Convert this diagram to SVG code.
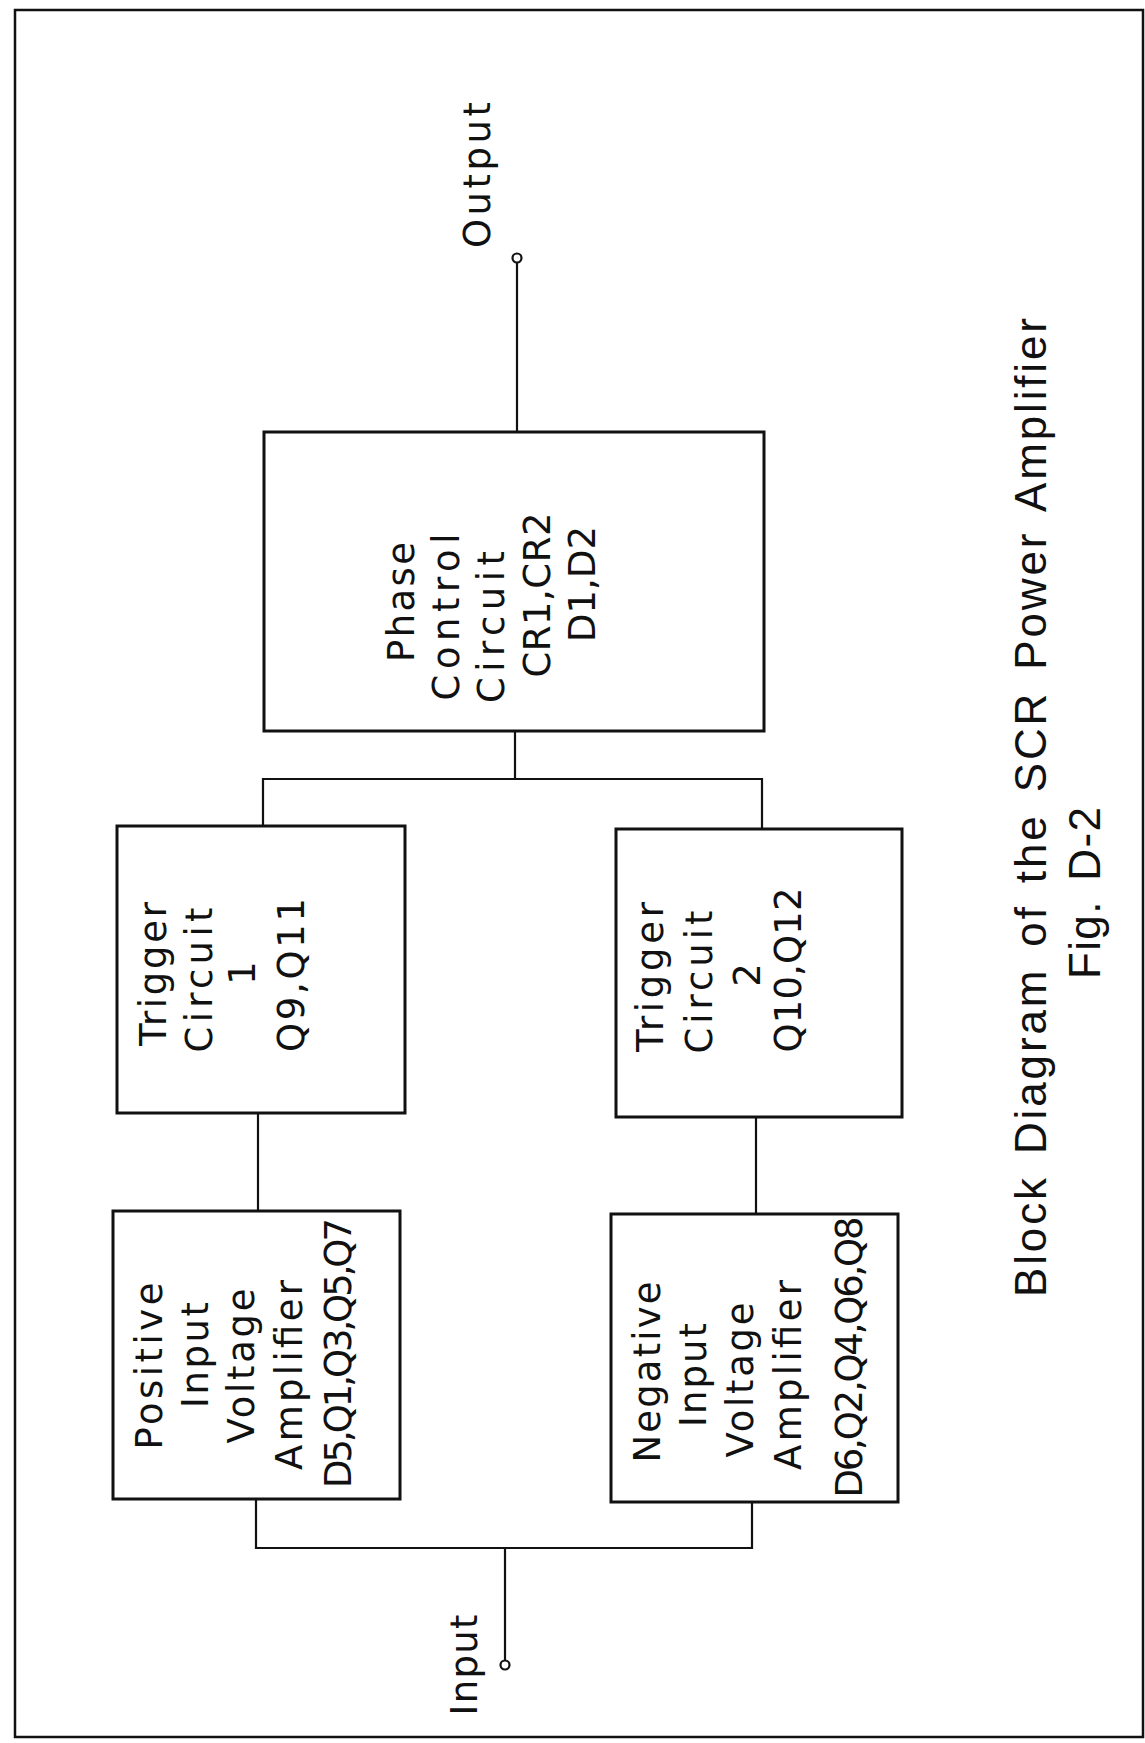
<svg xmlns="http://www.w3.org/2000/svg" width="1145" height="1743" viewBox="0 0 1145 1743">
  <style>
    .box{fill:none;stroke:#111;stroke-width:3}
    .wire{fill:none;stroke:#111;stroke-width:2.2}
    .term{fill:#fff;stroke:#111;stroke-width:2.2}
    .lbl{font-family:"DejaVu Sans","Liberation Sans",sans-serif;font-size:37px;fill:#111;text-anchor:middle}
    .ttl{font-family:"Liberation Sans",Arial,sans-serif;font-size:44px;fill:#111;text-anchor:middle;word-spacing:6px}
  </style>
  <rect width="1145" height="1743" fill="#fff"/>
  <!-- sheet frame -->
  <rect x="15" y="10" width="1128" height="1727" fill="none" stroke="#111" stroke-width="2.5"/>

  <!-- connectors -->
  <g id="connectors">
    <line class="wire" x1="517" y1="432" x2="517" y2="262"/>
    <circle class="term" cx="517" cy="258" r="4.5"/>
    <polyline class="wire" points="515,731 515,779"/>
    <polyline class="wire" points="263,826 263,779 762,779 762,829"/>
    <line class="wire" x1="258" y1="1113" x2="258" y2="1211"/>
    <line class="wire" x1="756" y1="1117" x2="756" y2="1214"/>
    <polyline class="wire" points="256,1499 256,1548 752,1548 752,1502"/>
    <line class="wire" x1="505" y1="1548" x2="505" y2="1660"/>
    <circle class="term" cx="505" cy="1665" r="4.5"/>
  </g>

  <g id="phase-control">
    <rect class="box" x="264" y="432" width="500" height="299"/>
    <text class="lbl" transform="translate(414 602) rotate(-90)" textLength="120">Phase</text>
    <text class="lbl" transform="translate(459 617) rotate(-90)" textLength="167">Control</text>
    <text class="lbl" transform="translate(504 627) rotate(-90)" textLength="152">Circuit</text>
    <text class="lbl" transform="translate(550 595) rotate(-90)" textLength="165">CR1,CR2</text>
    <text class="lbl" transform="translate(595 584) rotate(-90)" textLength="116">D1,D2</text>
  </g>

  <g id="trigger-1">
    <rect class="box" x="117" y="826" width="288" height="287"/>
    <text class="lbl" transform="translate(166 974) rotate(-90)" textLength="144">Trigger</text>
    <text class="lbl" transform="translate(212 980) rotate(-90)" textLength="145">Circuit</text>
    <text class="lbl" transform="translate(255 973) rotate(-90)">1</text>
    <text class="lbl" transform="translate(304 975) rotate(-90)" textLength="154">Q9,Q11</text>
  </g>

  <g id="trigger-2">
    <rect class="box" x="616" y="829" width="286" height="288"/>
    <text class="lbl" transform="translate(663 977) rotate(-90)" textLength="150">Trigger</text>
    <text class="lbl" transform="translate(712 982) rotate(-90)" textLength="143">Circuit</text>
    <text class="lbl" transform="translate(760 975) rotate(-90)">2</text>
    <text class="lbl" transform="translate(801 970) rotate(-90)" textLength="165">Q10,Q12</text>
  </g>

  <g id="positive-amp">
    <rect class="box" x="113" y="1211" width="287" height="288"/>
    <text class="lbl" transform="translate(162 1366) rotate(-90)" textLength="167">Positive</text>
    <text class="lbl" transform="translate(208 1355) rotate(-90)" textLength="106">Input</text>
    <text class="lbl" transform="translate(254 1366) rotate(-90)" textLength="155">Voltage</text>
    <text class="lbl" transform="translate(302 1375) rotate(-90)" textLength="190">Amplifier</text>
    <text class="lbl" transform="translate(351 1353) rotate(-90)" textLength="270">D5,Q1,Q3,Q5,Q7</text>
  </g>

  <g id="negative-amp">
    <rect class="box" x="611" y="1214" width="287" height="288"/>
    <text class="lbl" transform="translate(660 1372) rotate(-90)" textLength="181">Negative</text>
    <text class="lbl" transform="translate(706 1375) rotate(-90)" textLength="104">Input</text>
    <text class="lbl" transform="translate(753 1380) rotate(-90)" textLength="155">Voltage</text>
    <text class="lbl" transform="translate(801 1375) rotate(-90)" textLength="190">Amplifier</text>
    <text class="lbl" transform="translate(862 1357) rotate(-90)" textLength="281">D6,Q2,Q4,Q6,Q8</text>
  </g>

  <g id="terminals">
    <text class="lbl" transform="translate(490 175) rotate(-90)" textLength="146">Output</text>
    <text class="lbl" transform="translate(477 1665) rotate(-90)" textLength="101">Input</text>
  </g>

  <g id="caption">
    <text class="ttl" transform="translate(1046 807.5) rotate(-90)" textLength="979">Block Diagram of the SCR Power Amplifier</text>
    <text class="ttl" transform="translate(1100 893) rotate(-90)" textLength="172">Fig. D-2</text>
  </g>
</svg>
